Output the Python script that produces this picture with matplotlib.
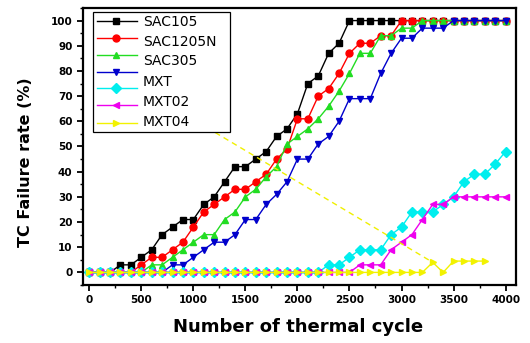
import numpy as np
import matplotlib
matplotlib.use("Agg")
import matplotlib.pyplot as plt
from matplotlib.ticker import MultipleLocator

# Thermal cycles (every 100 cycles)
cycles = np.arange(0, 4100, 100)

sac105 = [0, 0, 0, 3, 3, 6, 9, 15, 18, 21, 21, 27, 30, 36, 42, 42, 45, 48, 54, 57,
          63, 75, 78, 87, 91, 100, 100, 100, 100, 100, 100, 100, 100, 100, 100, 100,
          100, 100, 100, 100, 100]
sac1205n = [0, 0, 0, 0, 0, 3, 6, 6, 9, 12, 18, 24, 27, 30, 33, 33, 36, 39, 45, 49,
            61, 61, 70, 73, 79, 87, 91, 91, 94, 94, 100, 100, 100, 100, 100, 100,
            100, 100, 100, 100, 100]
sac305 = [0, 0, 0, 0, 0, 0, 3, 3, 6, 9, 12, 15, 15, 21, 24, 30, 33, 38, 42, 51,
          54, 57, 61, 66, 72, 79, 87, 87, 94, 94, 97, 97, 100, 100, 100, 100,
          100, 100, 100, 100, 100]
mxt = [0, 0, 0, 0, 0, 0, 0, 0, 3, 3, 6, 9, 12, 12, 15, 21, 21, 27, 31, 36,
       45, 45, 51, 54, 60, 69, 69, 69, 79, 87, 93, 93, 97, 97, 97, 100,
       100, 100, 100, 100, 100]
mxt02 = [0, 0, 0, 0, 0, 0, 0, 0, 0, 0, 0, 0, 0, 0, 0, 0, 0, 0, 0, 0,
         0, 0, 0, 3, 3, 6, 9, 9, 9, 15, 18, 24, 24, 24, 27, 30, 36, 39, 39, 43, 48]
mxt04 = [0, 0, 0, 0, 0, 0, 0, 0, 0, 0, 0, 0, 0, 0, 0, 0, 0, 0, 0, 0,
         0, 0, 0, 0, 0, 0, 3, 3, 3, 9, 12, 15, 21, 27, 27, 30, 30, 30, 30, 30, 30]
mxt04_b = [0, 0, 0, 0, 0, 0, 0, 0, 0, 0, 0, 0, 0, 0, 0, 0, 0, 0, 0, 0,
           0, 0, 0, 0, 0, 0, 0, 0, 0, 0, 0, 0, 0, 4, 0, 4.5, 4.5, 4.5, 4.5]

series_labels = ["SAC105", "SAC1205N", "SAC305", "MXT", "MXT02", "MXT04"]

# Dashed leader running from the legend's last entry down into the plot
leader_x = [1050, 3300]
leader_y = [59.5, 4]

styles = [
    (sac105, "#000000", "s"),
    (sac1205n, "#ff0000", "o"),
    (sac305, "#22dd22", "^"),
    (mxt, "#0000cc", "v"),
    (mxt02, "#00eeee", "D"),
    (mxt04, "#ee00ee", "<"),
    (mxt04_b, "#f2f200", ">"),
]

fig = plt.figure(figsize=(5.3, 3.43), dpi=100)
ax = fig.add_axes([83 / 530, 1 - 285 / 343, 433 / 530, 277 / 343])

for ys, col, mk in styles:
    ax.plot(cycles[:len(ys)], ys, color=col, marker=mk, ms=5, lw=1.0,
            mec=col, mfc=col, clip_on=False)

ax.plot(leader_x, leader_y, color="#f0f000", lw=1.0, ls=(0, (4, 3)))

ax.set_xlim(-60, 4100)
ax.set_ylim(-5, 105)
ax.xaxis.set_major_locator(MultipleLocator(500))
ax.xaxis.set_minor_locator(MultipleLocator(250))
ax.yaxis.set_major_locator(MultipleLocator(10))
ax.yaxis.set_minor_locator(MultipleLocator(5))
ax.tick_params(which="major", direction="out", length=4, width=1.3, labelsize=7.5)
ax.tick_params(which="minor", direction="out", length=2.5, width=1.0)
for lab in ax.get_xticklabels() + ax.get_yticklabels():
    lab.set_fontweight("bold")
for sp in ax.spines.values():
    sp.set_linewidth(1.6)

ax.set_xlabel("Number of thermal cycle", fontsize=13, fontweight="bold", va="center")
ax.xaxis.set_label_coords(0.497, -0.152)
ax.set_ylabel("TC Failure rate (%)", fontsize=11.5, fontweight="bold", va="center")
ax.yaxis.set_label_coords(-0.133, 0.444)

# Hand-built legend box
T = ax.transAxes
def fx(px):
    return (px - 83) / 433
def fy(py):
    return (285 - py) / 277

box = plt.Rectangle((fx(93), fy(132)), fx(230) - fx(93), fy(12) - fy(132),
                    transform=T, fill=True, facecolor="white", edgecolor="black",
                    lw=0.9, zorder=5)
ax.add_patch(box)
handle_rows = [21, 38, 55, 72, 88, 105, 123]
for row, (_, col, mk) in zip(handle_rows, styles):
    ax.plot([fx(97), fx(137)], [fy(row), fy(row)], transform=T, color=col,
            lw=1.0, zorder=6, clip_on=False)
    ax.plot([fx(116)], [fy(row)], transform=T, color=col, marker=mk, ms=5,
            zorder=7, clip_on=False)
text_rows = [22, 42, 61, 82, 102, 122]
for row, lab in zip(text_rows, series_labels):
    ax.text(fx(143), fy(row), lab, transform=T, fontsize=10, va="center",
            ha="left", zorder=7)

fig.savefig("out.png", dpi=100)
